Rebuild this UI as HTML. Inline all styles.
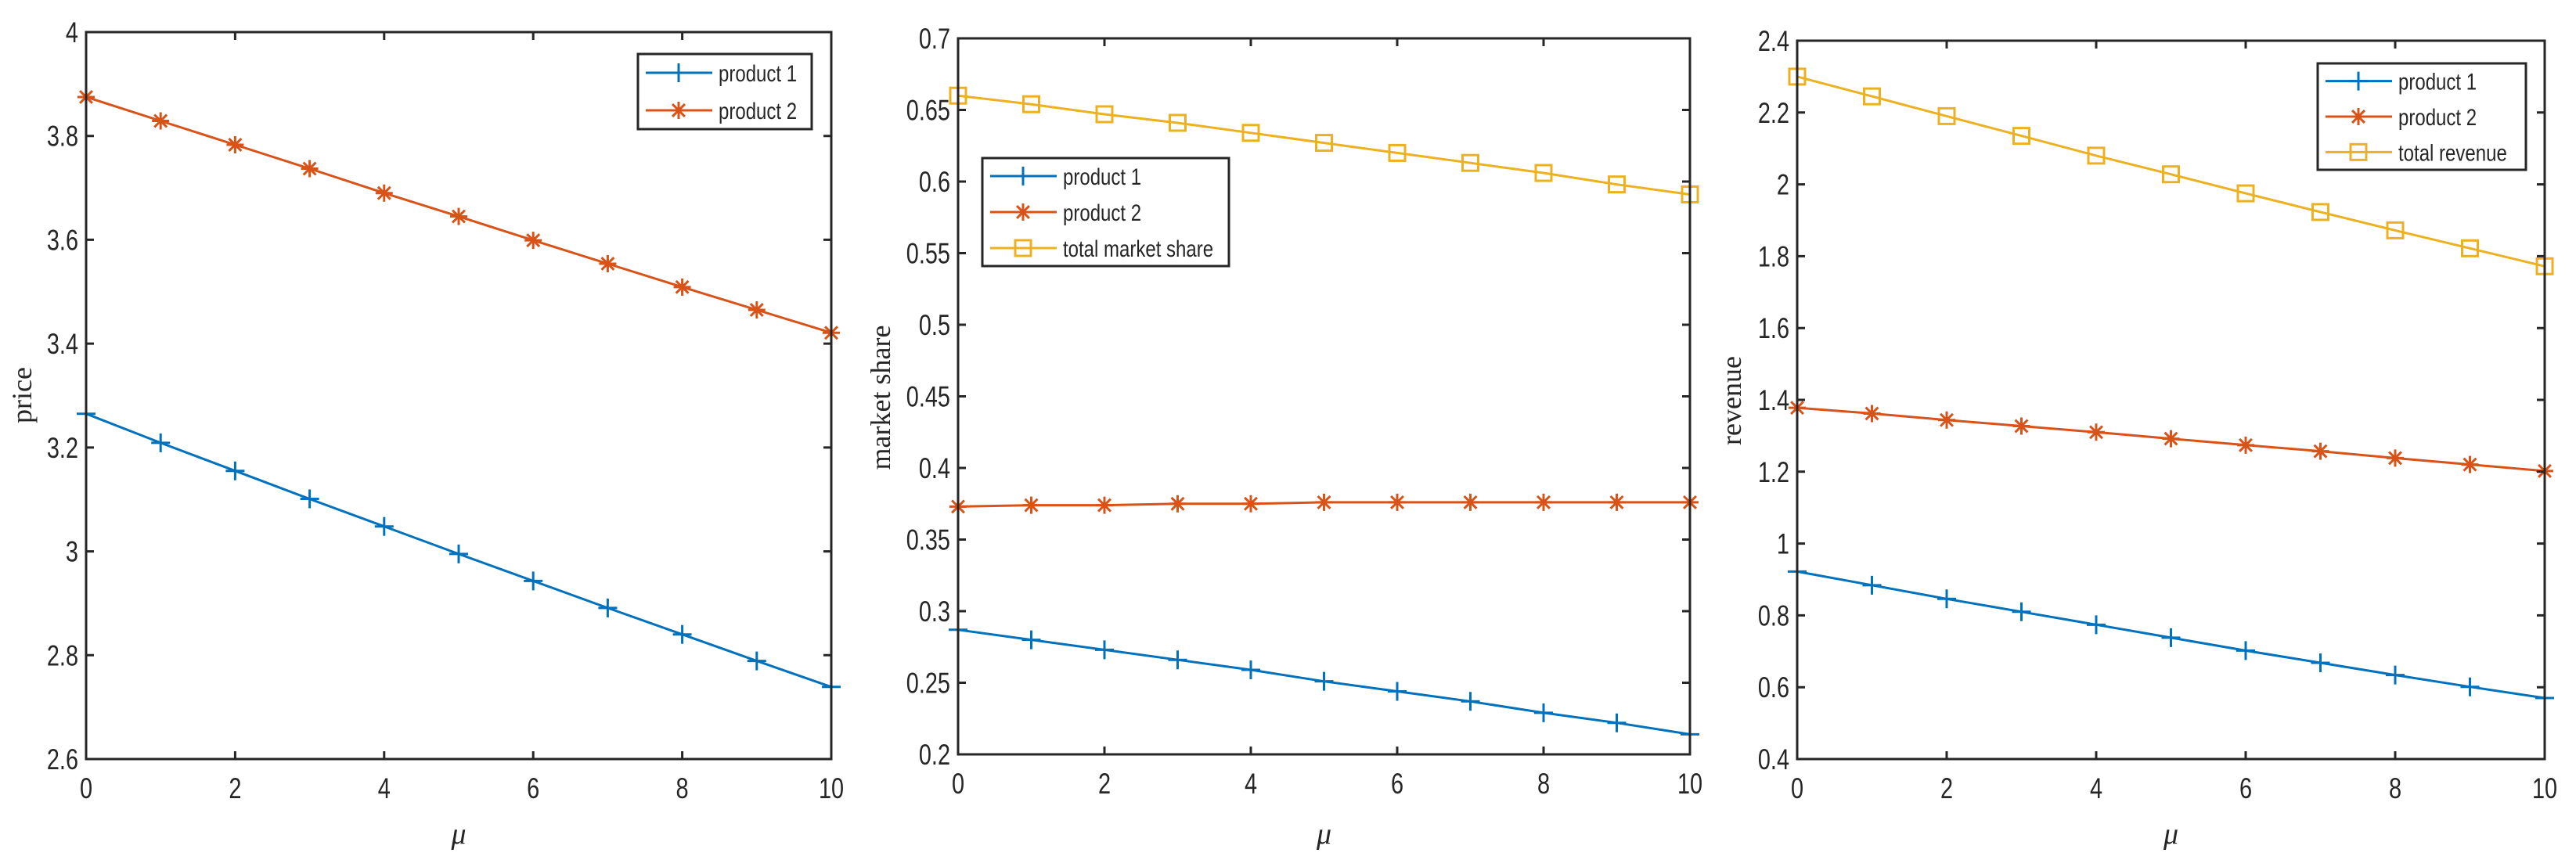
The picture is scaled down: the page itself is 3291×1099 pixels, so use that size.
<!DOCTYPE html>
<html><head><meta charset="utf-8">
<style>
html,body{margin:0;padding:0;background:#fff;}
svg{display:block;}
text{font-family:"Liberation Sans",Arial,sans-serif;fill:#262626;}
.ylab{font-family:"Liberation Serif","Times New Roman",serif;}
</style></head>
<body>
<svg id="fig" width="3291" height="1099" viewBox="0 0 3291 1099" xmlns="http://www.w3.org/2000/svg"></svg>
<script>
const mu = [0,1,2,3,4,5,6,7,8,9,10];
const xTicks = [0,2,4,6,8,10];
// Panel 1: price
const priceP1 = [3.265,3.209,3.155,3.101,3.048,2.995,2.943,2.891,2.840,2.789,2.739];
const priceP2 = [3.875,3.829,3.783,3.737,3.690,3.645,3.599,3.554,3.509,3.465,3.421];
const priceTicks = [2.6,2.8,3,3.2,3.4,3.6,3.8,4];
const priceTickLabels = ["2.6","2.8","3","3.2","3.4","3.6","3.8","4"];
// Panel 2: market share
const shareP1 = [0.287,0.280,0.273,0.266,0.259,0.251,0.244,0.237,0.229,0.222,0.214];
const shareP2 = [0.373,0.374,0.374,0.375,0.375,0.376,0.376,0.376,0.376,0.376,0.376];
const shareTotal = [0.660,0.654,0.647,0.641,0.634,0.627,0.620,0.613,0.606,0.598,0.591];
const shareTicks = [0.2,0.25,0.3,0.35,0.4,0.45,0.5,0.55,0.6,0.65,0.7];
const shareTickLabels = ["0.2","0.25","0.3","0.35","0.4","0.45","0.5","0.55","0.6","0.65","0.7"];
// Panel 3: revenue
const revP1 = [0.922,0.884,0.846,0.810,0.774,0.738,0.702,0.668,0.634,0.601,0.570];
const revP2 = [1.378,1.362,1.344,1.327,1.310,1.292,1.274,1.257,1.238,1.220,1.202];
const revTotal = [2.300,2.245,2.190,2.135,2.080,2.028,1.975,1.923,1.872,1.822,1.772];
const revTicks = [0.4,0.6,0.8,1,1.2,1.4,1.6,1.8,2,2.2,2.4];
const revTickLabels = ["0.4","0.6","0.8","1","1.2","1.4","1.6","1.8","2","2.2","2.4"];

const BLUE="#0072BD", ORANGE="#D95319", YELLOW="#EDB120", AX="#262626";
const NS="http://www.w3.org/2000/svg";
const svg=document.getElementById('fig');
function mk(tag,attrs,parent){const e=document.createElementNS(NS,tag);for(const k in attrs)e.setAttribute(k,attrs[k]);(parent||svg).appendChild(e);return e;}
function condense(t,f){const w=t.getComputedTextLength();if(w>0){t.setAttribute('textLength',(w*f).toFixed(1));t.setAttribute('lengthAdjust','spacingAndGlyphs');}}

function marker(g,type,x,y,color){
  let m;
  if(type==='plus'){
    m=mk('path',{d:`M${x-12},${y}H${x+12}M${x},${y-12}V${y+12}`,stroke:color,'stroke-width':3,fill:'none'},g);
  }else if(type==='star'){
    const r=11,d=r*0.72;
    m=mk('path',{d:`M${x-r},${y}H${x+r}M${x},${y-r}V${y+r}M${x-d},${y-d}L${x+d},${y+d}M${x-d},${y+d}L${x+d},${y-d}`,stroke:color,'stroke-width':3,fill:'none'},g);
  }else{
    m=mk('rect',{x:x-10,y:y-10,width:20,height:20,stroke:color,'stroke-width':3,fill:'none'},g);
  }
  return m;
}

function panel(cfg){
  const g=mk('g',{});
  
  
  const {L,R,T,B,ymin,ymax}=cfg;
  const sx=v=>L+(v-0)/(10-0)*(R-L);
  const sy=v=>B-(v-ymin)/(ymax-ymin)*(B-T);
  cfg.series.forEach(s=>{
    const sg=mk('g',{},g);
    
    
    const d=mu.map((m,i)=>(i?'L':'M')+sx(m).toFixed(1)+','+sy(s.vals[i]).toFixed(1)).join('');
    const p=mk('path',{d:d,stroke:s.color,'stroke-width':3,fill:'none'},sg);
    
    
    mu.forEach((m,i)=>{
      const mm=marker(sg,s.marker,sx(m),sy(s.vals[i]),s.color);
      
      
    });
  });
  const box=mk('rect',{x:L,y:T,width:R-L,height:B-T,fill:'none',stroke:AX,'stroke-width':3},g);
  
  
  const tl=10;
  xTicks.forEach(v=>{
    const x=sx(v);
    mk('path',{d:`M${x},${B}V${B-tl}M${x},${T}V${T+tl}`,stroke:AX,'stroke-width':3},g);
    const t=mk('text',{x:x,y:B+50,'font-size':37,'text-anchor':'middle'},g);
    t.textContent=String(v);
    
    
    condense(t,0.78);
  });
  cfg.ticks.forEach((v,i)=>{
    const y=sy(v);
    mk('path',{d:`M${L},${y}H${L+tl}M${R},${y}H${R-tl}`,stroke:AX,'stroke-width':3},g);
    const t=mk('text',{x:L-10,y:y+13,'font-size':37,'text-anchor':'end'},g);
    t.textContent=cfg.tickLabels[i];
    
    
    condense(t,0.78);
  });
  const xl=mk('text',{x:(L+R)/2,y:1078,'font-size':38,'font-style':'italic','text-anchor':'middle',class:'ylab'},g);
  xl.textContent='μ';
  
  
  const yl=mk('text',{x:0,y:0,'font-size':36,'text-anchor':'middle',class:'ylab',transform:`translate(${cfg.ylx},${cfg.yly}) rotate(-90)`},g);
  yl.textContent=cfg.ylabel;
  
  
  const lg=mk('g',{},g);
  
  
  const lb=cfg.legend;
  mk('rect',{x:lb.x,y:lb.y,width:lb.w,height:lb.h,fill:'#fff',stroke:AX,'stroke-width':3},lg);
  cfg.series.forEach((s,i)=>{
    const yy=lb.y+lb.h/(cfg.series.length)*(i+0.5);
    const le=mk('g',{},lg);
    
    
    mk('path',{d:`M${lb.x+10},${yy}H${lb.x+95}`,stroke:s.color,'stroke-width':3},le);
    marker(le,s.marker,lb.x+52,yy,s.color);
    const t=mk('text',{x:lb.x+103,y:yy+11,'font-size':30},le);
    t.textContent=s.label;
    condense(t,0.8);
  });
}

panel({name:'price-chart',L:110,R:1062,T:41,B:970,ymin:2.6,ymax:4,ticks:priceTicks,tickLabels:priceTickLabels,
  ylabel:'price',ylx:40,yly:505,
  legend:{x:815,y:69,w:222,h:96},
  series:[{id:'product-1',label:'product 1',vals:priceP1,color:BLUE,marker:'plus'},
          {id:'product-2',label:'product 2',vals:priceP2,color:ORANGE,marker:'star'}]});
panel({name:'market-share-chart',L:1224,R:2159,T:49,B:964,ymin:0.2,ymax:0.7,ticks:shareTicks,tickLabels:shareTickLabels,
  ylabel:'market share',ylx:1137,yly:508,
  legend:{x:1255,y:202,w:315,h:138},
  series:[{id:'product-1',label:'product 1',vals:shareP1,color:BLUE,marker:'plus'},
          {id:'product-2',label:'product 2',vals:shareP2,color:ORANGE,marker:'star'},
          {id:'total-market-share',label:'total market share',vals:shareTotal,color:YELLOW,marker:'square'}]});
panel({name:'revenue-chart',L:2296,R:3251,T:52,B:970,ymin:0.4,ymax:2.4,ticks:revTicks,tickLabels:revTickLabels,
  ylabel:'revenue',ylx:2224,yly:512,
  legend:{x:2961,y:81,w:266,h:136},
  series:[{id:'product-1',label:'product 1',vals:revP1,color:BLUE,marker:'plus'},
          {id:'product-2',label:'product 2',vals:revP2,color:ORANGE,marker:'star'},
          {id:'total-revenue',label:'total revenue',vals:revTotal,color:YELLOW,marker:'square'}]});
</script>
</body></html>
